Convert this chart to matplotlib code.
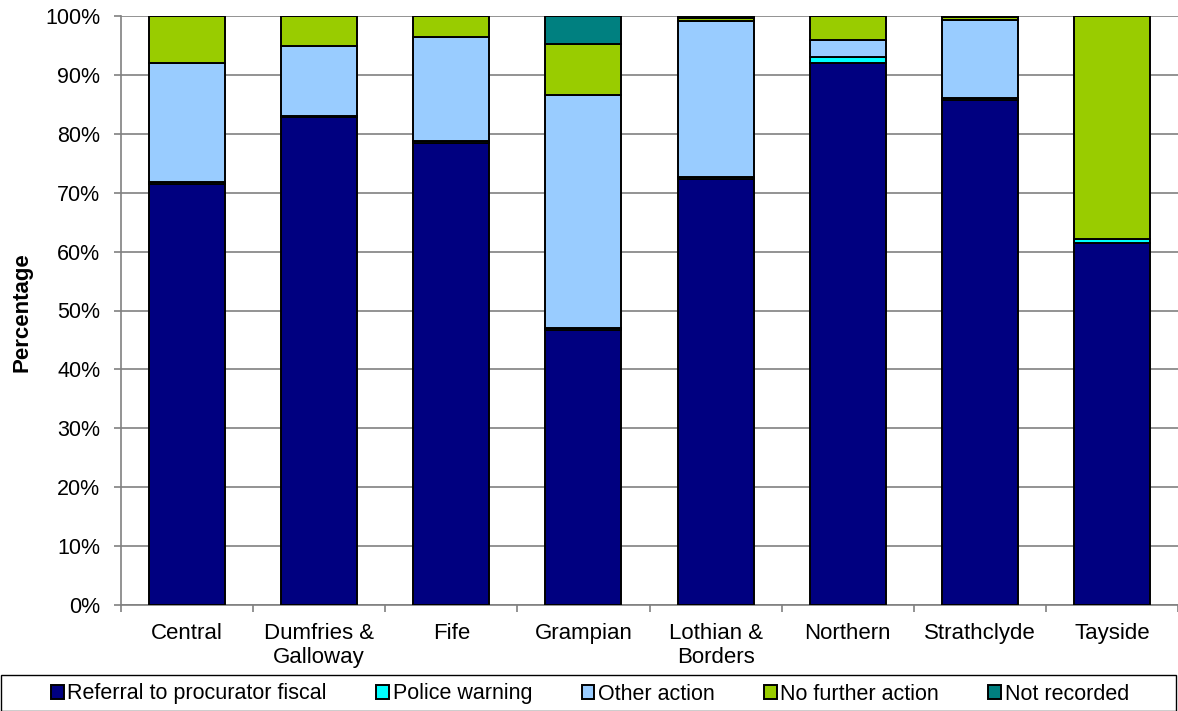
import numpy as np
import matplotlib.pyplot as plt
from matplotlib.patches import Rectangle
from matplotlib.ticker import PercentFormatter, FixedLocator

plt.rcParams['font.family'] = ['Liberation Sans', 'DejaVu Sans']

# 各警区处理结果所占百分比
regions = ["Central", "Dumfries &\nGalloway", "Fife", "Grampian",
           "Lothian &\nBorders", "Northern", "Strathclyde", "Tayside"]
referral = [71.5, 82.8, 78.5, 46.7, 72.4, 92.1, 85.8, 61.5]
police_warning = [0.3, 0.3, 0.3, 0.3, 0.3, 1.0, 0.2, 0.6]
other_action = [20.2, 11.8, 17.6, 39.6, 26.5, 2.9, 13.3, 0.0]
no_further = [8.0, 5.1, 3.6, 8.65, 0.5, 4.0, 0.6, 37.9]
not_recorded = [0.0, 0.0, 0.0, 4.75, 0.3, 0.0, 0.1, 0.0]

series = [
    ("Referral to procurator fiscal", referral, "#000080"),
    ("Police warning", police_warning, "#00FFFF"),
    ("Other action", other_action, "#99CCFF"),
    ("No further action", no_further, "#99CC00"),
    ("Not recorded", not_recorded, "#008080"),
]

W, H = 1178, 711
fig = plt.figure(figsize=(W / 100, H / 100), dpi=100)
ax = fig.add_axes([121 / W, 1 - 605 / H, (W - 121) / W, 589 / H])

x = np.arange(len(regions))
bottom = np.zeros(len(regions))
handles = []
for name, vals, color in series:
    vals = np.array(vals)
    b = ax.bar(x, vals, width=0.575, bottom=bottom, color=color,
               edgecolor="black", linewidth=1.4, label=name, zorder=3)
    handles.append(b)
    bottom += vals

ax.set_xlim(-0.5, len(regions) - 0.5)
ax.set_ylim(0, 100)
ax.yaxis.set_major_locator(FixedLocator(np.arange(0, 101, 10)))
ax.yaxis.set_major_formatter(PercentFormatter(decimals=0))
ax.grid(axis="y", color="#808080", linewidth=1.2, zorder=0)

ax.set_xticks(x)
ax.set_xticklabels(regions, fontsize=16)
ax.tick_params(axis="x", which="major", length=0, pad=13)
ax.set_xticks(np.arange(-0.5, len(regions)), minor=True)
ax.tick_params(axis="x", which="minor", length=5, width=1.2, color="#808080")
ax.tick_params(axis="y", labelsize=15.5, length=5, width=1.2, color="#808080", pad=10)

for side in ["top", "right"]:
    ax.spines[side].set_visible(False)
for side in ["left", "bottom"]:
    ax.spines[side].set_color("#808080")
    ax.spines[side].set_linewidth(1.2)

fig.text(22 / W, 1 - 312 / H, "Percentage", rotation=90, fontsize=16,
         fontweight="bold", ha="center", va="center")

# 图例外框横跨整个图底部
fig.patches.append(Rectangle((0.5 / W, 0.5 / H), (W - 3) / W, (H - 675) / H,
                             transform=fig.transFigure, fill=False,
                             edgecolor="black", linewidth=1.0))
leg = fig.legend(handles=handles, loc="center", ncol=5,
                 bbox_to_anchor=(590 / W, 1 - 694 / H),
                 fontsize=15.5, frameon=False,
                 handlelength=0.6, handleheight=0.6, handletextpad=0.15,
                 columnspacing=2.3, borderpad=0.0)

fig.savefig("out.png", dpi=100)
